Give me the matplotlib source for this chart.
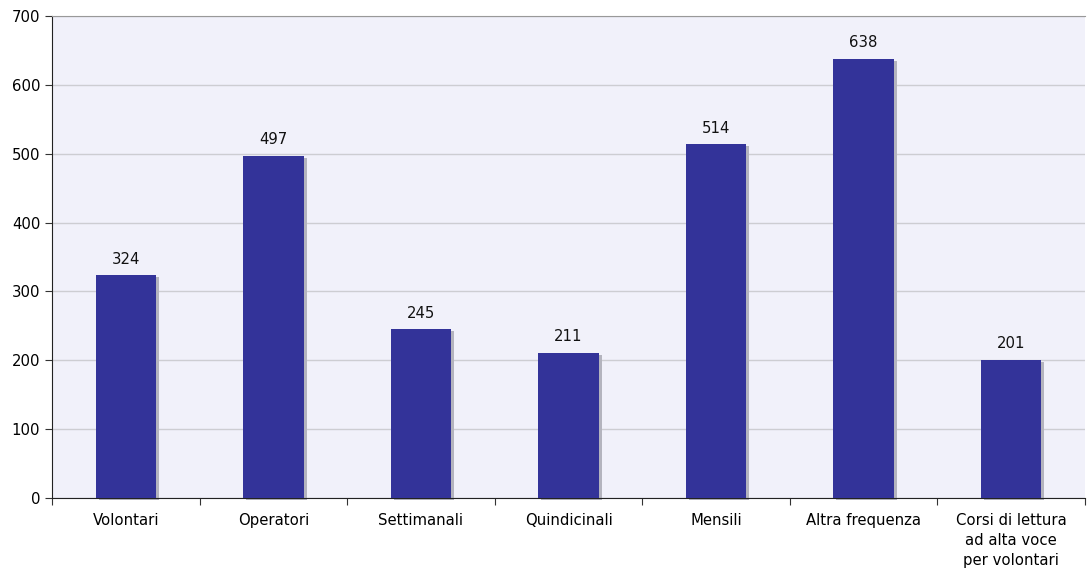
import matplotlib
matplotlib.use('Agg')
from matplotlib import pyplot as plt
from matplotlib import transforms as mtransforms

categories = ['Volontari', 'Operatori', 'Settimanali', 'Quindicinali', 'Mensili',
              'Altra frequenza', 'Corsi di lettura\nad alta voce\nper volontari']
values = [324, 497, 245, 211, 514, 638, 201]
yticks = [0, 100, 200, 300, 400, 500, 600, 700]

fs = 10.7
plt.rcParams['font.family'] = ['DejaVu Sans']
fig = plt.figure(figsize=(10.87, 5.70), dpi=100)
ax = fig.add_axes([52/1087, 1 - 498/570, 1033/1087, 482/570])
ax.set_facecolor('#F1F1FA')

x = list(range(len(categories)))
w = 0.41

# shadow behind bars
shadow = mtransforms.offset_copy(ax.transData, fig=fig, x=3, y=-2, units='dots')
ax.bar(x, values, width=w, color='#B4B4BE', transform=shadow, zorder=2, clip_on=False)
ax.bar(x, values, width=w, color='#333399', zorder=3)

for xi, v in zip(x, values):
    ax.annotate(str(v), (xi, v), xytext=(0, 6), textcoords='offset points',
                ha='center', va='bottom', fontsize=fs, color='#111111')

ax.set_xlim(-0.5, len(categories) - 0.5)
ax.set_ylim(0, 700)
ax.set_yticks(yticks)
ax.yaxis.grid(True, color='#CDCDD2', linewidth=1)
ax.set_axisbelow(True)

ax.set_xticks([i - 0.5 for i in range(len(categories) + 1)])
ax.set_xticklabels([])
ax.set_xticks(x, minor=True)
ax.set_xticklabels(categories, minor=True, fontsize=fs)
ax.tick_params(axis='x', which='minor', length=0, pad=11)
ax.tick_params(axis='x', which='major', length=5, direction='out', color='#333333')
ax.tick_params(axis='y', length=5, direction='out', labelsize=fs, color='#333333')
for lbl in ax.get_xticklabels(minor=True):
    lbl.set_verticalalignment('top')
    lbl.set_linespacing(1.4)

ax.spines['left'].set_color('#222222')
ax.spines['bottom'].set_color('#222222')
ax.spines['top'].set_color('#999999')
ax.spines['right'].set_visible(False)

fig.savefig('out.png', dpi=100)
